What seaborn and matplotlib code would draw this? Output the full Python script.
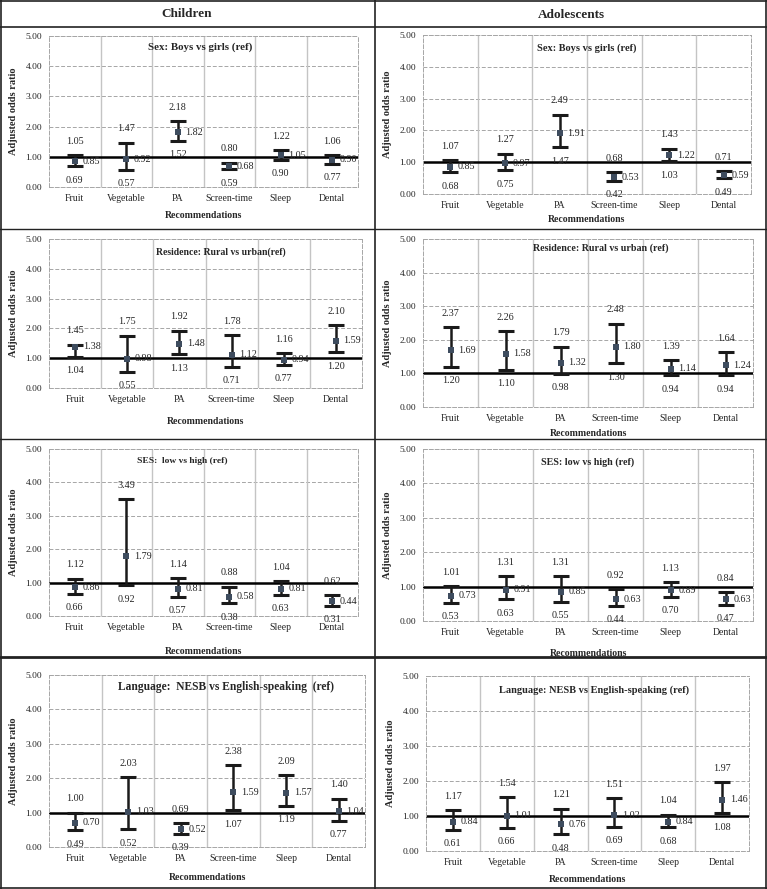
import numpy as np
import matplotlib
matplotlib.use("Agg")
import matplotlib.pyplot as plt
from matplotlib.lines import Line2D
import seaborn as sns

categories = ["Fruit", "Vegetable", "PA", "Screen-time", "Sleep", "Dental"]

# children
ch_sex_or = [0.85, 0.92, 1.82, 0.68, 1.05, 0.90]
ch_sex_lo = [0.69, 0.57, 1.52, 0.59, 0.90, 0.77]
ch_sex_hi = [1.05, 1.47, 2.18, 0.80, 1.22, 1.06]
ch_res_or = [1.38, 0.98, 1.48, 1.12, 0.94, 1.59]
ch_res_lo = [1.04, 0.55, 1.13, 0.71, 0.77, 1.20]
ch_res_hi = [1.45, 1.75, 1.92, 1.78, 1.16, 2.10]
ch_ses_or = [0.86, 1.79, 0.81, 0.58, 0.81, 0.44]
ch_ses_lo = [0.66, 0.92, 0.57, 0.38, 0.63, 0.31]
ch_ses_hi = [1.12, 3.49, 1.14, 0.88, 1.04, 0.62]
ch_lang_or = [0.70, 1.03, 0.52, 1.59, 1.57, 1.04]
ch_lang_lo = [0.49, 0.52, 0.39, 1.07, 1.19, 0.77]
ch_lang_hi = [1.00, 2.03, 0.69, 2.38, 2.09, 1.40]

# adolescents
ad_sex_or = [0.85, 0.97, 1.91, 0.53, 1.22, 0.59]
ad_sex_lo = [0.68, 0.75, 1.47, 0.42, 1.03, 0.49]
ad_sex_hi = [1.07, 1.27, 2.49, 0.68, 1.43, 0.71]
ad_res_or = [1.69, 1.58, 1.32, 1.80, 1.14, 1.24]
ad_res_lo = [1.20, 1.10, 0.98, 1.30, 0.94, 0.94]
ad_res_hi = [2.37, 2.26, 1.79, 2.48, 1.39, 1.64]
ad_ses_or = [0.73, 0.91, 0.85, 0.63, 0.89, 0.63]
ad_ses_lo = [0.53, 0.63, 0.55, 0.44, 0.70, 0.47]
ad_ses_hi = [1.01, 1.31, 1.31, 0.92, 1.13, 0.84]
ad_lang_or = [0.84, 1.01, 0.76, 1.02, 0.84, 1.46]
ad_lang_lo = [0.61, 0.66, 0.48, 0.69, 0.68, 1.08]
ad_lang_hi = [1.17, 1.54, 1.21, 1.51, 1.04, 1.97]

y_ticks = [0, 1, 2, 3, 4, 5]

W, H = 767, 889
MARK = "#3e4c5e"

sns.set_theme(style="white")
plt.rcParams["font.family"] = ["Liberation Serif", "DejaVu Serif"]

fig = plt.figure(figsize=(W / 100, H / 100), dpi=100)


def add_panel(box, title, title_pos, xlab_gap, ors, los, his, title_size=7.5):
    x0, x1, ytop, ybot = box
    ax = fig.add_axes([x0 / W, 1 - ybot / H, (x1 - x0) / W, (ybot - ytop) / H])
    ors, los, his = np.array(ors), np.array(los), np.array(his)

    # grid and category separators
    for t in y_ticks[1:]:
        ax.axhline(t, color="#a6a6a6", lw=0.7, ls=(0, (4, 2)), zorder=0)
    for i in range(len(categories) - 1):
        ax.axvline(i + 0.5, color="#c4c4c4", lw=1.0, zorder=0)
    ax.axhline(1.0, color="black", lw=1.8, zorder=2)

    _, caps, _ = ax.errorbar(categories, ors, yerr=[ors - los, his - ors], fmt="none",
                             ecolor="#1a1a1a", elinewidth=1.8, capsize=5.5,
                             capthick=2.2, zorder=3)
    for c in caps:
        c.set_color(MARK)
    sns.scatterplot(x=categories, y=ors, marker="s", s=24, color=MARK,
                    edgecolor=MARK, linewidth=0, zorder=4, ax=ax)

    for c, o, lo, hi in zip(categories, ors, los, his):
        ax.annotate(f"{hi:.2f}", (c, hi), xytext=(0, 10), textcoords="offset points",
                    ha="center", va="center", fontsize=7.3, color="#262626")
        ax.annotate(f"{lo:.2f}", (c, lo), xytext=(0, -10), textcoords="offset points",
                    ha="center", va="center", fontsize=7.3, color="#262626")
        ax.annotate(f"{o:.2f}", (c, o), xytext=(5.5, 0), textcoords="offset points",
                    ha="left", va="center", fontsize=7.3, color="#262626")

    ax.set_xlim(-0.5, 5.5)
    ax.set_ylim(0, 5)
    ax.set_yticks(y_ticks)
    ax.set_yticklabels([f"{t:.2f}" for t in y_ticks], fontsize=6.8)
    ax.tick_params(axis="x", length=0, pad=5, labelsize=7.0)
    ax.tick_params(axis="y", length=3, width=0.6, color="#999999", pad=2)
    for s in ax.spines.values():
        s.set_linestyle((0, (4, 2)))
        s.set_color("#a6a6a6")
        s.set_linewidth(0.7)
    ax.set_ylabel("Adjusted odds ratio", fontsize=7.5, fontweight="bold", labelpad=5)
    ax.set_xlabel("Recommendations", fontsize=7.0, fontweight="bold")
    hpx = ybot - ytop
    ax.xaxis.label.set_va("center")
    ax.xaxis.set_label_coords(0.5, -xlab_gap / hpx)
    ax.text(title_pos[0], 1 - title_pos[1] / hpx, title, transform=ax.transAxes,
            ha="center", va="center", fontsize=title_size, fontweight="bold")
    return ax


# children column
add_panel((49, 358, 36, 187), "Sex: Boys vs girls (ref)", (0.49, 11), 28,
          ch_sex_or, ch_sex_lo, ch_sex_hi, title_size=7.8)
add_panel((49, 362, 239, 388), "Residence: Rural vs urban(ref)", (0.55, 13), 34,
          ch_res_or, ch_res_lo, ch_res_hi, title_size=7.0)
add_panel((49, 358, 449, 616), "SES:  low vs high (ref)", (0.43, 12), 36,
          ch_ses_or, ch_ses_lo, ch_ses_hi, title_size=6.8)
add_panel((49, 365, 675, 847), "Language:  NESB vs English-speaking  (ref)", (0.56, 12), 30,
          ch_lang_or, ch_lang_lo, ch_lang_hi, title_size=8.3)

# adolescents column
add_panel((423, 751, 35, 194), "Sex: Boys vs girls (ref)", (0.50, 13), 25,
          ad_sex_or, ad_sex_lo, ad_sex_hi)
add_panel((423, 753, 239, 407), "Residence: Rural vs urban (ref)", (0.54, 9), 26,
          ad_res_or, ad_res_lo, ad_res_hi, title_size=7.2)
add_panel((423, 753, 449, 621), "SES: low vs high (ref)", (0.50, 13), 33,
          ad_ses_or, ad_ses_lo, ad_ses_hi, title_size=7.2)
add_panel((426, 749, 676, 851), "Language: NESB vs English-speaking (ref)", (0.52, 14), 28,
          ad_lang_or, ad_lang_lo, ad_lang_hi)


# table frame
def hline(y, x0=0, x1=W, lw=1.2):
    fig.add_artist(Line2D([x0 / W, x1 / W], [1 - y / H, 1 - y / H], color="#222222",
                          lw=lw, transform=fig.transFigure))


def vline(x, y0=0, y1=H, lw=1.2):
    fig.add_artist(Line2D([x / W, x / W], [1 - y0 / H, 1 - y1 / H], color="#222222",
                          lw=lw, transform=fig.transFigure))


hline(1)
hline(27)
hline(229, lw=1.0)
hline(439, lw=1.0)
hline(657, lw=2.0)
hline(888)
vline(1)
vline(375)
vline(766)

fig.text(187 / W, 1 - 14 / H, "Children", ha="center", va="center",
         fontsize=9.5, fontweight="bold")
fig.text(571 / W, 1 - 15 / H, "Adolescents", ha="center", va="center",
         fontsize=9.5, fontweight="bold")

fig.savefig("out.png", dpi=100)
